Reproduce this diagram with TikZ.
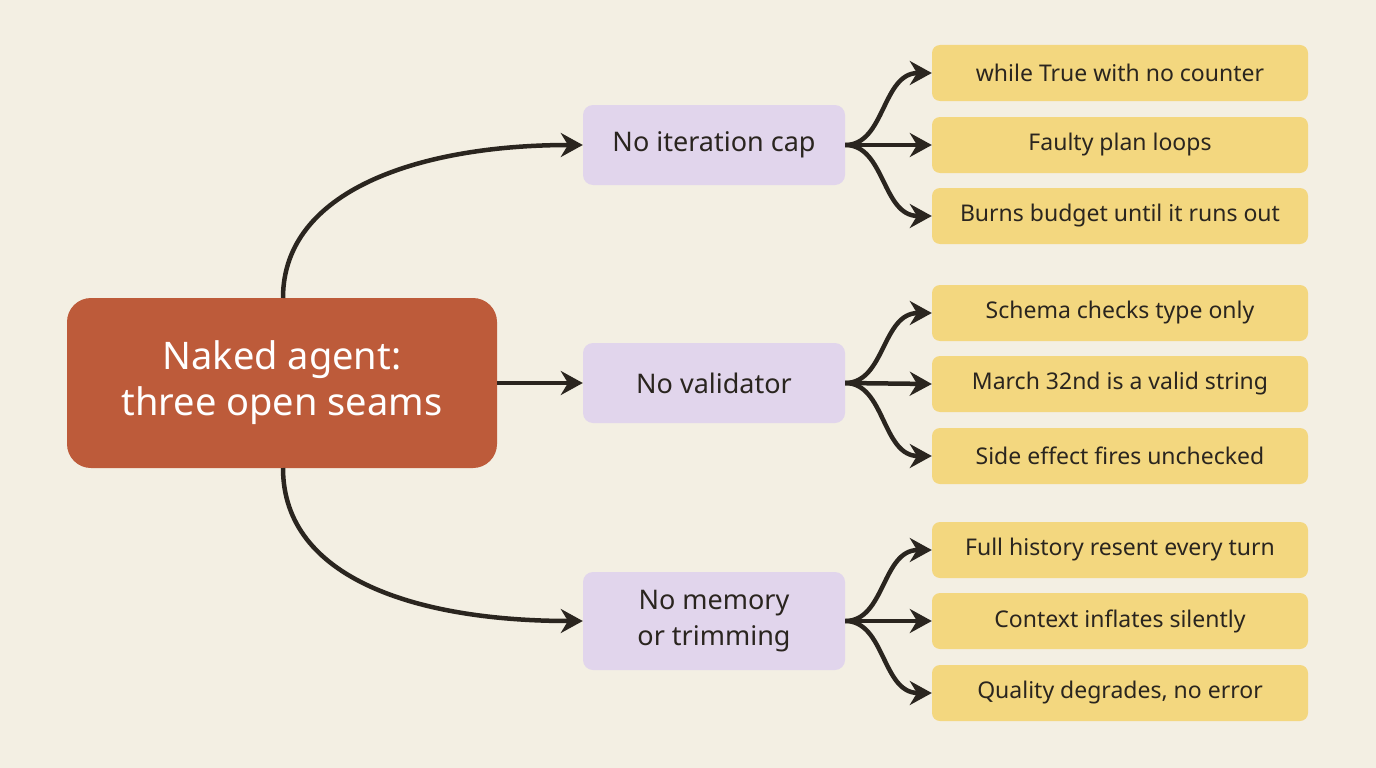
\documentclass[tikz,border=0pt]{standalone}
\usepackage{fontspec}
\setmainfont{Noto Sans}
\usetikzlibrary{arrows.meta,calc}
\definecolor{bg}{HTML}{F3EFE3}
\definecolor{rust}{HTML}{BD5B3A}
\definecolor{lav}{HTML}{E1D5EC}
\definecolor{sand}{HTML}{F3D77F}
\definecolor{ink}{HTML}{2A251F}
\tikzset{
  mainbox/.style={fill=rust,rounded corners=24pt,minimum width=430pt,minimum height=170pt,text=white,font=\fontsize{38}{46}\selectfont,align=center},
  midbox/.style={fill=lav,rounded corners=10pt,minimum width=262pt,text=ink,font=\fontsize{27}{36}\selectfont,align=center},
  leafbox/.style={fill=sand,rounded corners=8pt,minimum width=376pt,minimum height=56pt,text=ink,font=\fontsize{23}{28}\selectfont},
  conn/.style={draw=ink,line width=4.5pt,-{Stealth[length=22pt,width=24pt]}}
}
\begin{document}
\begin{tikzpicture}[x=1pt,y=-1pt]
\fill[bg] (0,0) rectangle (1376,768);
\useasboundingbox (0,0) rectangle (1376,768);
\node[mainbox] (m) at (282,383) {Naked agent:\\three open seams};
\node[midbox,minimum height=80pt] (a) at (714,145) {No iteration cap};
\node[midbox,minimum height=80pt] (b) at (714,383) {No validator};
\node[midbox,minimum height=98pt] (c) at (714,621) {No memory\\or trimming};
\foreach \n/\y/\t in {a1/73/{while True with no counter}, a2/145/{Faulty plan loops}, a3/216/{Burns budget until it runs out},
  b1/313/{Schema checks type only}, b2/384/{March 32nd is a valid string}, b3/456/{Side effect fires unchecked},
  c1/550/{Full history resent every turn}, c2/621/{Context inflates silently}, c3/693/{Quality degrades, no error}}
  \node[leafbox] (\n) at (1120,\y) {\t};
\draw[conn] (283,298) .. controls (283,190) and (420,145) .. (a.west);
\draw[conn] (m.east) -- (b.west);
\draw[conn] (283,468) .. controls (283,580) and (420,621) .. (c.west);
\foreach \p in {a,b,c}{
  \draw[conn] (\p.east) .. controls ($(\p.east)+(40,0)$) and ($(\p1.west)+(-50,0)$) .. (\p1.west);
  \draw[conn] (\p.east) -- (\p2.west);
  \draw[conn] (\p.east) .. controls ($(\p.east)+(40,0)$) and ($(\p3.west)+(-50,0)$) .. (\p3.west);
}
\end{tikzpicture}
\end{document}
